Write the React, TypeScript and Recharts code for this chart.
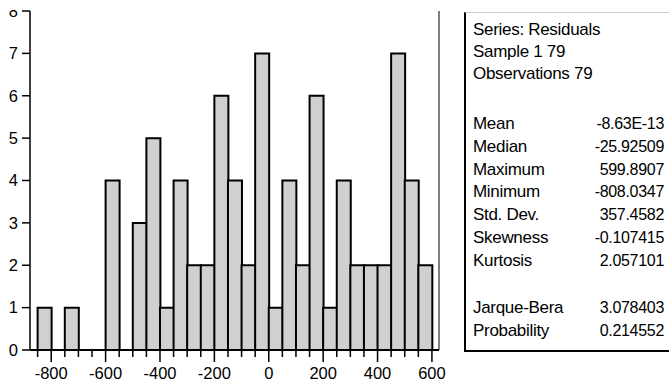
import { BarChart, Bar, XAxis, YAxis, ReferenceLine } from "recharts";

// histogram bins (lower edge) and counts
const binLow = [
  -850, -800, -750, -700, -650, -600, -550, -500, -450, -400, -350, -300,
  -250, -200, -150, -100, -50, 0, 50, 100, 150, 200, 250, 300, 350, 400, 450,
  500, 550,
];
const binWidth = 50;
const counts = [
  1, 0, 1, 0, 0, 4, 0, 3, 5, 1, 4, 2, 2, 6, 4, 2, 7, 1, 4, 2, 6, 1, 4, 2, 2,
  2, 7, 4, 2,
];
const xTicks = [...binLow, 600];
const xLabeled = [-800, -600, -400, -200, 0, 200, 400, 600];
const yTicks = [0, 1, 2, 3, 4, 5, 6, 7, 8];
const xDomain = [-878, 626];

const headerLines = ["Series: Residuals", "Sample 1 79", "Observations 79"];
const statNames = [
  "Mean",
  "Median",
  "Maximum",
  "Minimum",
  "Std. Dev.",
  "Skewness",
  "Kurtosis",
];
const statValues = [
  "-8.63E-13",
  "-25.92509",
  "599.8907",
  "-808.0347",
  "357.4582",
  "-0.107415",
  "2.057101",
];
const testNames = ["Jarque-Bera", "Probability"];
const testValues = ["3.078403", "0.214552"];

const data = binLow.map((lo, i) => ({ mid: lo + binWidth / 2, count: counts[i] }));

const FONT = "'Liberation Sans', Arial, sans-serif";
const FS = 16.5;

function XTick({ x, y, payload }: any) {
  const major = xLabeled.includes(payload.value);
  return (
    <g>
      <line
        x1={x}
        x2={x}
        y1={y}
        y2={y + (major ? 12 : 7)}
        stroke="#000"
        strokeWidth={1.5}
      />
      {major && (
        <text
          x={x}
          y={y + 23}
          textAnchor="middle"
          dominantBaseline="central"
          fill="#000"
          fontSize={FS}
        >
          {payload.value}
        </text>
      )}
    </g>
  );
}

function Row({ top, label, value }: { top: number; label: string; value?: string }) {
  return (
    <div
      style={{
        position: "absolute",
        left: 473,
        top: top - 10,
        width: 191,
        height: 20,
        lineHeight: "20px",
        fontSize: 17,
        display: "flex",
        justifyContent: "space-between",
        whiteSpace: "nowrap",
      }}
    >
      <span style={{ letterSpacing: -0.3 }}>{label}</span>
      {value && (
        <span style={{ fontSize: 16, letterSpacing: -0.3 }}>{value}</span>
      )}
    </div>
  );
}

export default function App() {
  return (
    <div
      style={{
        position: "absolute",
        left: 0,
        top: 0,
        width: 669,
        height: 381,
        fontFamily: FONT,
        color: "#000",
        background: "#fff",
        overflow: "hidden",
      }}
    >
      <div style={{ position: "absolute", left: 0, top: 10 }}>
        <BarChart
          width={669}
          height={371}
          data={data}
          margin={{ top: 1, right: 230, bottom: 0, left: 0 }}
          barCategoryGap={0}
          barGap={0}
        >
          <XAxis
            dataKey="mid"
            type="number"
            domain={xDomain}
            ticks={xTicks}
            interval={0}
            height={31}
            tickSize={0}
            tickMargin={0}
            tick={<XTick />}
            axisLine={{ stroke: "#000", strokeWidth: 2 }}
            allowDataOverflow
          />
          <YAxis
            type="number"
            domain={[0, 8]}
            ticks={yTicks}
            interval={0}
            width={30}
            tickSize={8}
            tickMargin={4}
            tick={{ fill: "#000", fontSize: FS }}
            tickLine={{ stroke: "#000", strokeWidth: 1.5 }}
            axisLine={{ stroke: "#000", strokeWidth: 1.5 }}
          />
          <ReferenceLine x={xDomain[1]} stroke="#000" strokeWidth={1} />
          <Bar
            dataKey="count"
            fill="#d0d0d0"
            stroke="#000"
            strokeWidth={2}
            isAnimationActive={false}
          />
        </BarChart>
      </div>

      <div
        style={{
          position: "absolute",
          left: 464,
          top: 12,
          width: 205,
          height: 340,
          boxSizing: "border-box",
          borderLeft: "2px solid #000",
          borderBottom: "2px solid #000",
          borderTop: "1px solid #cfcfcf",
        }}
      />
      {headerLines.map((t, i) => (
        <Row key={t} top={30 + i * 22} label={t} />
      ))}
      {statNames.map((t, i) => (
        <Row key={t} top={124 + i * 22.8} label={t} value={statValues[i]} />
      ))}
      {testNames.map((t, i) => (
        <Row key={t} top={308 + i * 22.5} label={t} value={testValues[i]} />
      ))}
    </div>
  );
}
